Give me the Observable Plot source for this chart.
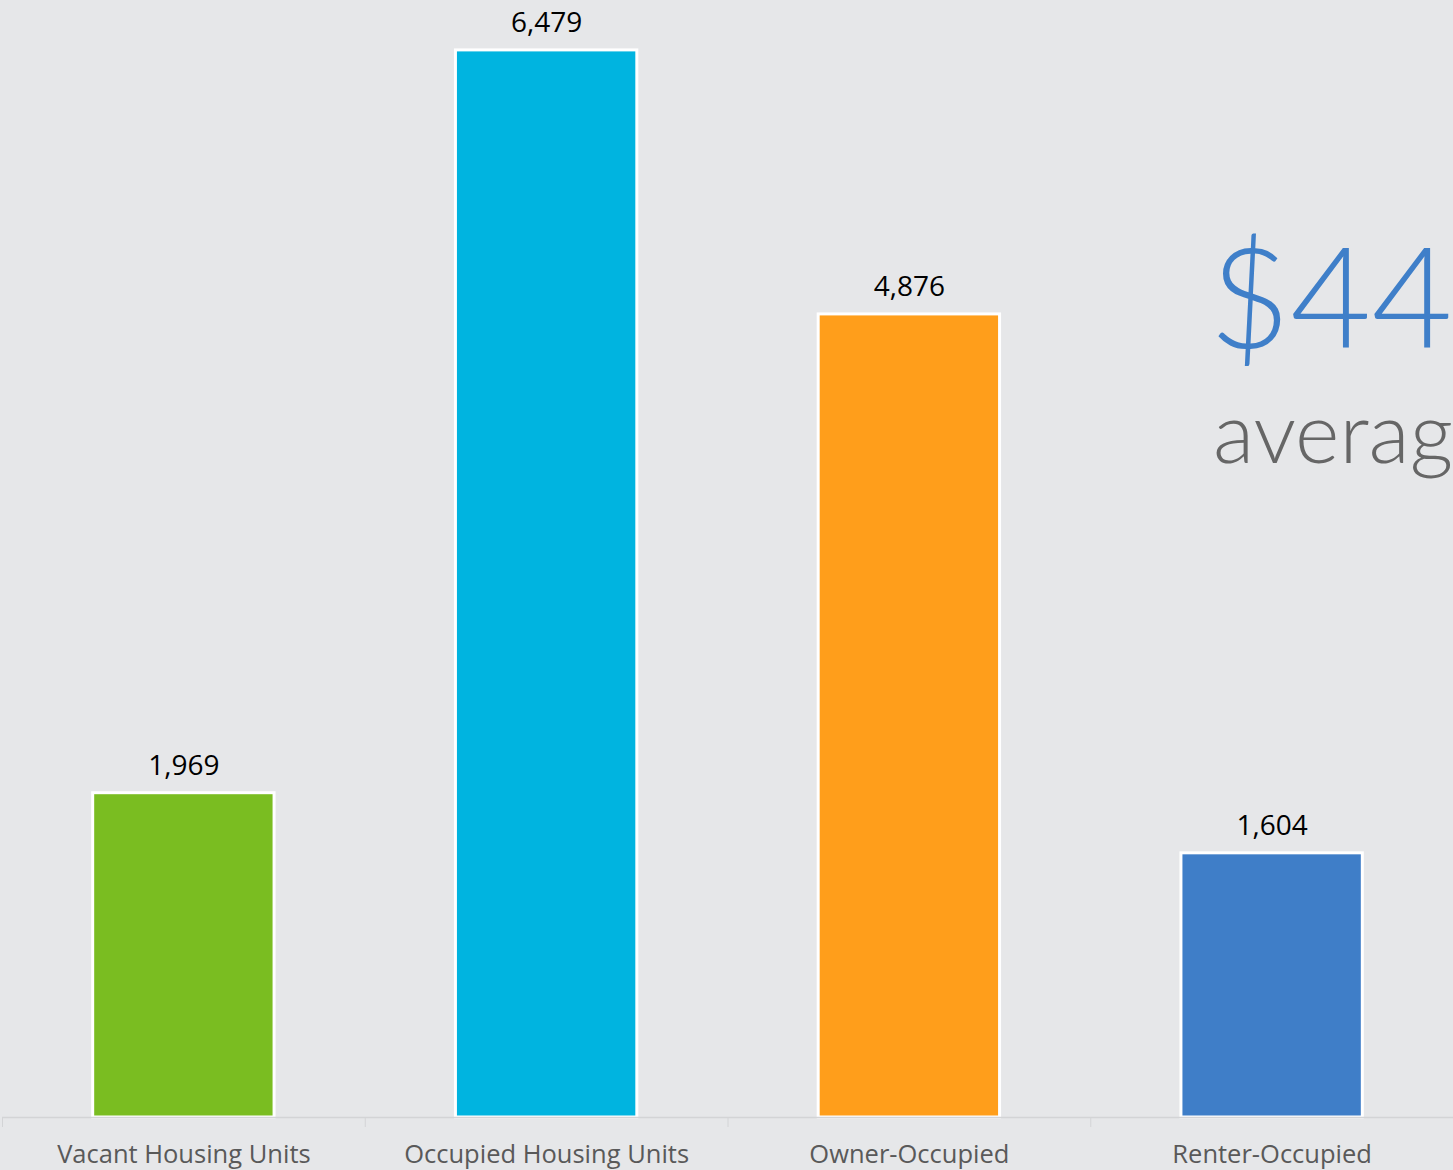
<!DOCTYPE html>
<html>
<head>
<meta charset="utf-8">
<script src="https://cdn.jsdelivr.net/npm/d3@7"></script>
<script src="https://cdn.jsdelivr.net/npm/@observablehq/plot@0.6"></script>
<style>
  html, body { margin: 0; padding: 0; background: #e6e7e9; overflow: hidden; }
  #wrap { position: relative; width: 1453px; height: 1170px; overflow: hidden; }
  .big { position: absolute; font-family: Lato, "Open Sans", sans-serif; font-weight: 300; white-space: nowrap; }
  #amount { left: 1209px; top: 224px; font-size: 140px; color: #3f7fc9; line-height: 1; }
  #sub { left: 1213px; top: 388px; font-size: 85px; color: #666666; line-height: 1; }
</style>
</head>
<body>
<div id="wrap">
  <div id="chart"></div>
  <div class="big" id="amount">$44</div>
  <div class="big" id="sub">averag</div>
</div>
<script>
const categories = ["Vacant Housing Units", "Occupied Housing Units", "Owner-Occupied", "Renter-Occupied"];
const values = [1969, 6479, 4876, 1604];
const colors = ["#7abd21", "#00b4e0", "#ff9e1b", "#3f7ec8"];

const data = categories.map((c, i) => ({i, category: c, value: values[i], color: colors[i]}));
const bounds = d3.range(categories.length + 1);
const centers = categories.map((c, i) => i + 0.5);

const chart = Plot.plot({
  width: 1453,
  height: 1170,
  marginLeft: 2,
  marginRight: 0,
  marginTop: 0,
  marginBottom: 53,
  style: {background: "transparent", fontFamily: "'Open Sans', sans-serif"},
  x: {type: "linear", domain: [0, categories.length], axis: null},
  y: {domain: [0, 6782], axis: null},
  marks: [
    Plot.rectY(data, {
      x1: d => d.i + 0.25,
      x2: d => d.i + 0.75,
      y: "value",
      fill: "color",
      stroke: "#ffffff",
      strokeWidth: 3
    }),
    Plot.ruleY([0], {stroke: "#d3d4d6", strokeWidth: 1.5}),
    Plot.axisX(bounds, {tickSize: 10, tickFormat: () => "", stroke: "#d3d4d6"}),
    Plot.axisX(centers, {
      tickSize: 0,
      tickPadding: 27,
      tickFormat: v => categories[Math.floor(v)],
      fontSize: 25.5,
      fill: "#595959"
    }),
    Plot.text(data, {
      x: d => d.i + 0.5,
      y: "value",
      text: d => d3.format(",")(d.value),
      dy: -27,
      fontSize: 28,
      fill: "#000000"
    })
  ]
});
document.getElementById("chart").appendChild(chart);
</script>
</body>
</html>
